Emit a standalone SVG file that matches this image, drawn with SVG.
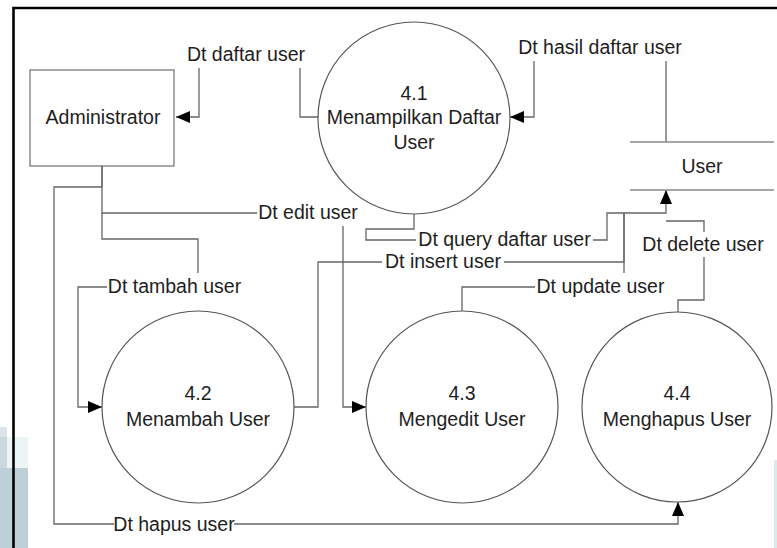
<svg xmlns="http://www.w3.org/2000/svg" width="777" height="548" viewBox="0 0 777 548">
  <style>
    text { font-family: "Liberation Sans", Arial, sans-serif; font-size: 19.5px; fill: #1e1e1e; text-anchor: middle; }
    .proc { fill: #ffffff; stroke: #555555; stroke-width: 1.2; }
    .ent { fill: #ffffff; stroke: #7a7a7a; stroke-width: 1.3; }
    .store { fill: none; stroke: #8a8a8a; stroke-width: 1.4; }
    .flow { fill: none; stroke: #666666; stroke-width: 1.3; }
    .arr { marker-end: url(#head); }
  </style>
  <defs>
    <marker id="head" viewBox="0 0 14 12" refX="14" refY="6" markerWidth="14" markerHeight="12" markerUnits="userSpaceOnUse" orient="auto">
      <path d="M0,0 L14,6 L0,12 z" fill="#000000"/>
    </marker>
  </defs>

  <rect width="777" height="548" fill="#ffffff"/>

  <!-- page edge shading, lower left -->
  <rect x="0" y="427" width="7" height="10" fill="#dde4e7"/>
  <rect x="0" y="437" width="7" height="31" fill="#cbd8dc"/>
  <rect x="7" y="437" width="21" height="31" fill="#eef3f6"/>
  <rect x="0" y="468" width="28" height="80" fill="#bdd0d7"/>
  <rect x="774" y="460" width="3" height="88" fill="#dbe8ee"/>

  <!-- frame -->
  <path d="M13.5,548 V8 H777" fill="none" stroke="#000000" stroke-width="2.6"/>

  <!-- connectors -->
  <g id="connectors">
    <!-- Dt daftar user -->
    <path class="flow" d="M319,117 H300 V68"/>
    <path class="flow arr" d="M199,68 V117 H176"/>
    <!-- Dt hasil daftar user -->
    <path class="flow" d="M666,142 V61"/>
    <path class="flow arr" d="M534,61 V117 H510"/>
    <!-- Dt query daftar user -->
    <path class="flow" d="M414,214 V229 H366 V240 H416"/>
    <path class="flow arr" d="M593,240 H607 V213 H666 V190"/>
    <!-- Dt insert user -->
    <path class="flow" d="M294,407 H318 V262 H382"/>
    <path class="flow" d="M504,262 H624 V213"/>
    <!-- Dt update user -->
    <path class="flow" d="M462,311 V287 H535"/>
    <path class="flow" d="M624,273 V213"/>
    <!-- Dt delete user -->
    <path class="flow" d="M678,312 V300 H704 V257"/>
    <path class="flow" d="M704,232 V221 H666"/>
    <!-- Dt edit user -->
    <path class="flow" d="M102,166 V213 H257"/>
    <path class="flow arr" d="M343,226 V407 H366"/>
    <!-- Dt tambah user -->
    <path class="flow" d="M102,213 V239 H198 V273"/>
    <path class="flow arr" d="M107,287 H78 V407 H102"/>
    <!-- Dt hapus user -->
    <path class="flow" d="M102,166 V187 H54 V524 H114"/>
    <path class="flow arr" d="M234,524 H678 V502"/>

    <text x="246" y="61">Dt daftar user</text>
    <text x="600" y="54">Dt hasil daftar user</text>
    <text x="504.5" y="246">Dt query daftar user</text>
    <text x="443" y="268">Dt insert user</text>
    <text x="600.5" y="293">Dt update user</text>
    <text x="703" y="251">Dt delete user</text>
    <text x="308" y="219">Dt edit user</text>
    <text x="174.5" y="293">Dt tambah user</text>
    <text x="174" y="531">Dt hapus user</text>
  </g>

  <!-- external entity -->
  <g id="administrator">
    <rect class="ent" x="30" y="70" width="144" height="96"/>
    <text x="103" y="124">Administrator</text>
  </g>

  <!-- data store -->
  <g id="store-user">
    <path class="store" d="M630,142 H774 M630,190 H774"/>
    <text x="702" y="173">User</text>
  </g>

  <!-- processes -->
  <g id="p4-1">
    <circle class="proc" cx="414" cy="118" r="96"/>
    <text x="414" y="100">4.1</text>
    <text x="414" y="124">Menampilkan Daftar</text>
    <text x="414" y="149">User</text>
  </g>
  <g id="p4-2">
    <circle class="proc" cx="198" cy="407" r="96"/>
    <text x="198" y="400">4.2</text>
    <text x="198" y="426">Menambah User</text>
  </g>
  <g id="p4-3">
    <circle class="proc" cx="462" cy="407" r="96"/>
    <text x="462" y="400">4.3</text>
    <text x="462" y="426">Mengedit User</text>
  </g>
  <g id="p4-4">
    <circle class="proc" cx="677" cy="407" r="95"/>
    <text x="677" y="400">4.4</text>
    <text x="677" y="426">Menghapus User</text>
  </g>
</svg>
